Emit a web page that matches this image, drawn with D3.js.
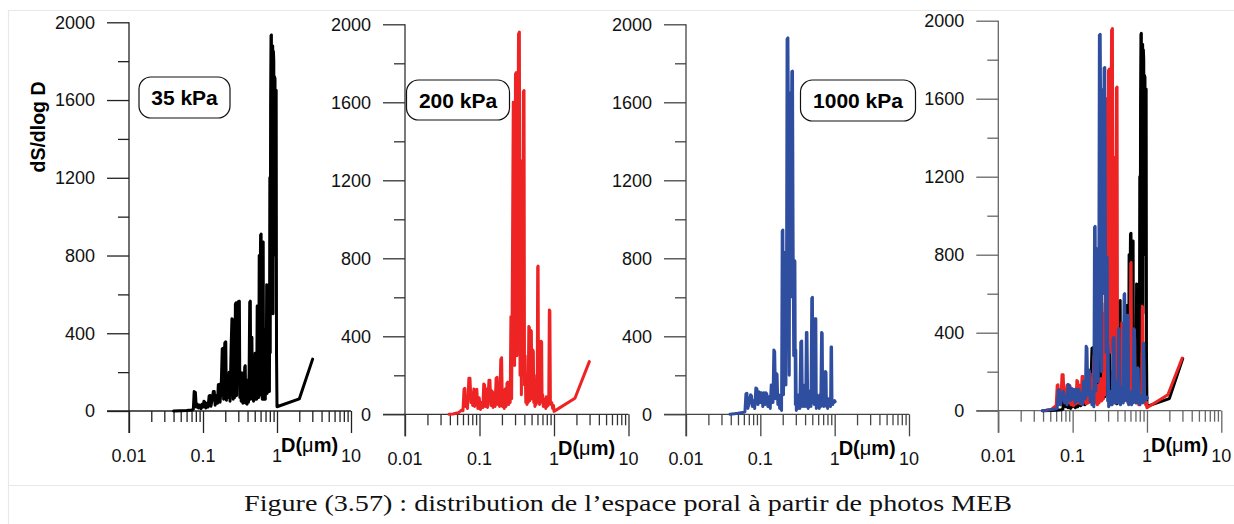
<!DOCTYPE html>
<html>
<head>
<meta charset="utf-8">
<script src="https://cdn.jsdelivr.net/npm/d3@7"></script>
<style>
html,body{margin:0;padding:0;background:#fff;}
svg{display:block;}
</style>
</head>
<body>
<svg id="chart" width="1234" height="524"></svg>
<script>
// ---------------- DATA ----------------
const yTicksMajor = [0, 400, 800, 1200, 1600, 2000];
const yTicksMinor = [200, 600, 1000, 1400, 1800];
const xTicksMajor = [0.01, 0.1, 1, 10];
const xTickLabels = ["0.01", "0.1", "1", "10"];
const xTicksMinor = [0.02,0.03,0.04,0.05,0.06,0.07,0.08,0.09,0.2,0.3,0.4,0.5,0.6,0.7,0.8,0.9,2,3,4,5,6,7,8,9];
const pressures = ["35 kPa", "200 kPa", "1000 kPa"];
const yLabel = "dS/dlog D";
const caption = "Figure (3.57) : distribution de l\u2019espace poral \u00e0 partir de photos MEB";

// 35 kPa (black)
const blackD = [0.040,0.050,0.060,0.070,0.074,0.076,0.079,0.081,0.084,0.087,0.090,0.094,0.097,0.100,0.103,0.106,0.109,0.113,0.117,0.121,0.125,0.128,0.133,0.138,0.142,0.146,0.152,0.157,0.161,0.166,0.170,0.176,0.182,0.186,0.190,0.197,0.203,0.207,0.213,0.219,0.226,0.232,0.240,0.246,0.251,0.256,0.263,0.269,0.274,0.280,0.285,0.292,0.300,0.310,0.315,0.322,0.328,0.334,0.340,0.346,0.353,0.359,0.366,0.372,0.378,0.386,0.394,0.403,0.412,0.420,0.428,0.436,0.442,0.450,0.458,0.465,0.474,0.482,0.490,0.498,0.506,0.515,0.523,0.531,0.540,0.548,0.557,0.566,0.575,0.583,0.592,0.600,0.610,0.617,0.625,0.633,0.642,0.651,0.658,0.667,0.676,0.686,0.695,0.705,0.715,0.725,0.735,0.746,0.757,0.768,0.780,0.790,0.800,0.810,0.820,0.830,0.840,0.850,0.860,0.875,0.885,0.895,0.905,0.915,0.925,0.940,0.950,0.962,0.975,0.985,1.000,2.000,3.030];
const blackV = [0,1,2,5,8,100,95,20,35,15,30,12,35,20,50,45,15,40,20,78,80,25,60,100,100,30,80,40,135,137,45,120,320,322,60,350,356,55,140,70,200,50,330,475,470,60,280,70,550,557,80,420,563,565,70,200,50,190,195,40,150,45,225,233,40,130,35,160,45,200,560,565,60,300,380,70,250,50,230,60,297,70,280,60,540,90,300,70,800,120,600,905,910,80,400,60,860,870,60,250,80,300,60,420,100,650,90,200,120,160,650,100,1200,300,1600,1930,1935,600,1880,1878,500,1850,1800,800,1720,1710,900,1500,1650,300,22,62,267];

// 200 kPa (red)
const redD = [0.039,0.044,0.048,0.052,0.055,0.058,0.060,0.062,0.0635,0.065,0.067,0.069,0.072,0.0745,0.077,0.079,0.081,0.084,0.086,0.089,0.092,0.095,0.099,0.103,0.107,0.111,0.114,0.117,0.120,0.124,0.128,0.134,0.138,0.142,0.147,0.152,0.157,0.162,0.167,0.172,0.176,0.181,0.186,0.193,0.198,0.203,0.209,0.215,0.221,0.227,0.234,0.240,0.246,0.252,0.258,0.264,0.270,0.276,0.284,0.290,0.296,0.304,0.312,0.318,0.326,0.334,0.343,0.350,0.358,0.365,0.372,0.380,0.388,0.396,0.402,0.410,0.418,0.426,0.434,0.442,0.450,0.459,0.467,0.474,0.482,0.490,0.497,0.504,0.512,0.520,0.528,0.535,0.545,0.555,0.565,0.575,0.585,0.594,0.604,0.612,0.620,0.630,0.640,0.650,0.660,0.672,0.683,0.692,0.705,0.718,0.732,0.746,0.760,0.775,0.790,0.805,0.820,0.835,0.850,0.866,0.880,0.895,0.915,0.935,0.960,0.985,1.000,1.91,2.98];
const redV = [0,2,5,8,15,22,18,130,133,40,70,30,185,185,60,110,45,130,40,125,128,30,85,25,60,35,155,150,40,130,35,175,175,45,120,35,110,40,185,190,50,150,40,280,290,40,100,30,130,40,160,165,50,120,60,500,80,700,1600,1595,250,1745,1752,300,1200,1950,1960,200,800,100,1300,200,1655,1660,150,300,60,200,50,150,60,450,445,70,300,430,425,80,200,330,320,60,150,40,100,50,200,60,755,760,80,150,50,120,60,375,370,60,100,40,80,40,60,30,90,40,70,45,60,535,530,60,50,60,30,45,15,82,270];

// 1000 kPa (blue)
const blueD = [0.039,0.045,0.050,0.055,0.060,0.062,0.064,0.066,0.068,0.071,0.074,0.076,0.078,0.081,0.084,0.087,0.090,0.093,0.097,0.100,0.104,0.108,0.112,0.115,0.119,0.122,0.126,0.131,0.136,0.140,0.144,0.148,0.152,0.156,0.160,0.164,0.168,0.172,0.177,0.182,0.188,0.193,0.197,0.201,0.205,0.209,0.213,0.217,0.221,0.225,0.229,0.235,0.240,0.245,0.250,0.255,0.260,0.265,0.271,0.276,0.281,0.286,0.292,0.296,0.300,0.305,0.312,0.320,0.330,0.340,0.350,0.360,0.368,0.378,0.388,0.398,0.408,0.416,0.424,0.432,0.440,0.450,0.460,0.470,0.480,0.492,0.502,0.510,0.520,0.530,0.545,0.558,0.566,0.578,0.590,0.605,0.620,0.635,0.650,0.667,0.680,0.690,0.700,0.710,0.725,0.740,0.752,0.765,0.775,0.790,0.805,0.820,0.840,0.860,0.880,0.895,0.908,0.920,0.940,0.960,0.980,1.000,1.016];
const blueV = [0,3,5,8,10,12,105,108,30,60,100,95,40,70,30,135,130,50,115,60,110,40,110,50,110,105,40,90,30,150,145,60,330,320,80,210,205,50,100,30,60,20,940,945,100,500,830,825,150,600,1925,1930,1300,200,1646,600,1200,1757,1760,900,300,790,785,50,330,20,60,30,100,30,370,376,40,150,40,120,40,420,420,130,30,120,40,90,40,595,600,60,200,50,490,490,30,100,40,80,30,100,40,420,415,50,100,40,80,60,220,215,40,70,30,80,50,60,40,345,345,70,50,65,60,70,65];

const BLACK = "#000000", RED = "#ee2324", BLUE = "#2f4ea0";

// ---------------- LAYOUT ----------------
const panels = [
  {x0:129,   x1:351,   yTop:22.3, y0:411,   series:[0],     label:0, box:{x:139,  y:77, w:91,  h:41}, axis:"#222"},
  {x0:405,   x1:628.5, yTop:24.3, y0:414.3, series:[1],     label:1, box:{x:406.5,y:80, w:103, h:40}, axis:"#333"},
  {x0:686,   x1:909,   yTop:24.3, y0:414.3, series:[2],     label:2, box:{x:800.5,y:80, w:115, h:41}, axis:"#444"},
  {x0:998.3, x1:1221.3,yTop:20.7, y0:410.7, series:[0,1,2], label:null, box:null, axis:"#666"}
];
const seriesData = [
  {D:blackD, V:blackV, color:BLACK},
  {D:redD,   V:redV,   color:RED},
  {D:blueD,  V:blueV,  color:BLUE}
];

const svg = d3.select("#chart");
const SANS = "'Liberation Sans', Arial, Helvetica, sans-serif";

// frame lines
svg.append("line").attr("x1",8).attr("x2",1234).attr("y1",10.5).attr("y2",10.5).attr("stroke","#e8e8e8").attr("stroke-width",1.2);
svg.append("line").attr("x1",8.5).attr("x2",8.5).attr("y1",10).attr("y2",524).attr("stroke","#e8e8e8").attr("stroke-width",1.2);
svg.append("line").attr("x1",8).attr("x2",1234).attr("y1",485.5).attr("y2",485.5).attr("stroke","#e8e8e8").attr("stroke-width",1.2);

panels.forEach((p, pi) => {
  const x = d3.scaleLog().domain([0.01, 10]).range([p.x0, p.x1]);
  const y = d3.scaleLinear().domain([0, 2000]).range([p.y0, p.yTop]);
  const g = svg.append("g");

  // y axis major
  const yMaj = g.append("g").attr("transform", `translate(${p.x0},0)`)
    .call(d3.axisLeft(y).tickValues(yTicksMajor).tickSize(22).tickPadding(12).tickFormat(d3.format("d")));
  yMaj.select(".domain").remove();
  yMaj.selectAll("line").attr("stroke", p.axis).attr("stroke-width", 1.3);
  yMaj.selectAll("text").attr("font-family", SANS).attr("font-size", 18).attr("fill", "#111");
  const yMin = g.append("g").attr("transform", `translate(${p.x0},0)`)
    .call(d3.axisLeft(y).tickValues(yTicksMinor).tickSize(11).tickFormat(""));
  yMin.select(".domain").remove();
  yMin.selectAll("line").attr("stroke", p.axis).attr("stroke-width", 1.3);

  // x axis
  const xMaj = g.append("g").attr("transform", `translate(0,${p.y0})`)
    .call(d3.axisBottom(x).tickValues(xTicksMajor).tickSize(22).tickFormat(""));
  xMaj.select(".domain").remove();
  xMaj.selectAll("line").attr("stroke", p.axis).attr("stroke-width", 1.3);
  const xMin = g.append("g").attr("transform", `translate(0,${p.y0})`)
    .call(d3.axisBottom(x).tickValues(xTicksMinor).tickSize(11).tickFormat(""));
  xMin.select(".domain").remove();
  xMin.selectAll("line").attr("stroke", p.axis).attr("stroke-width", 1.3);

  // axis lines
  g.append("line").attr("x1", x(0.01)).attr("x2", x(0.01))
    .attr("y1", y(2000)).attr("y2", y(0) + 22).attr("stroke", p.axis).attr("stroke-width", 1.3);
  g.append("line").attr("x1", x(0.01) - 22).attr("x2", x(10))
    .attr("y1", y(0)).attr("y2", y(0)).attr("stroke", p.axis).attr("stroke-width", 1.3);

  // x tick labels
  g.selectAll("text.xl").data(xTicksMajor).enter().append("text")
    .attr("class", "xl")
    .attr("x", d => x(d)).attr("y", y(0) + 51)
    .attr("text-anchor", "middle")
    .attr("font-family", SANS).attr("font-size", 18).attr("fill", "#111")
    .text((d, i) => xTickLabels[i]);

  // D(µm)
  const dl = g.append("text").attr("x", x(1) + 4).attr("y", y(0) + 41)
    .attr("font-family", SANS).attr("font-size", 20).attr("font-weight", "bold").attr("fill", "#000");
  dl.append("tspan").text("D(");
  dl.append("tspan").attr("font-weight", "normal").text("\u03bc");
  dl.append("tspan").text("m)");

  // series
  const line = d3.line().x(d => x(d[0])).y(d => y(d[1]));
  p.series.forEach(si => {
    const s = seriesData[si];
    const pts = s.D.map((d, i) => [d, s.V[i]]);
    g.append("path").datum(pts)
      .attr("d", line).attr("fill", "none")
      .attr("stroke", s.color).attr("stroke-width", 3)
      .attr("stroke-linejoin", "round").attr("stroke-linecap", "round");
  });

  // pressure label
  if (p.label !== null) {
    const b = p.box;
    g.append("rect").attr("x", b.x).attr("y", b.y).attr("width", b.w).attr("height", b.h)
      .attr("rx", 12).attr("ry", 12).attr("fill", "#fff").attr("stroke", "#111").attr("stroke-width", 1.2);
    g.append("text").attr("x", b.x + b.w / 2).attr("y", b.y + b.h / 2 + 7.5)
      .attr("text-anchor", "middle").attr("font-family", SANS).attr("font-size", 21)
      .attr("font-weight", "bold").attr("fill", "#000").text(pressures[p.label]);
  }

  if (pi === 0) {
    g.append("text").attr("transform", "translate(45,127) rotate(-90)")
      .attr("text-anchor", "middle").attr("font-family", SANS).attr("font-size", 19.5)
      .attr("font-weight", "bold").attr("fill", "#000").text(yLabel);
  }
});

// caption
svg.append("text").attr("x", 244).attr("y", 511)
  .attr("font-family", "'Liberation Serif', 'DejaVu Serif', serif").attr("font-size", 23)
  .attr("fill", "#111").attr("textLength", 768).attr("lengthAdjust", "spacingAndGlyphs")
  .text(caption);
</script>
</body>
</html>
